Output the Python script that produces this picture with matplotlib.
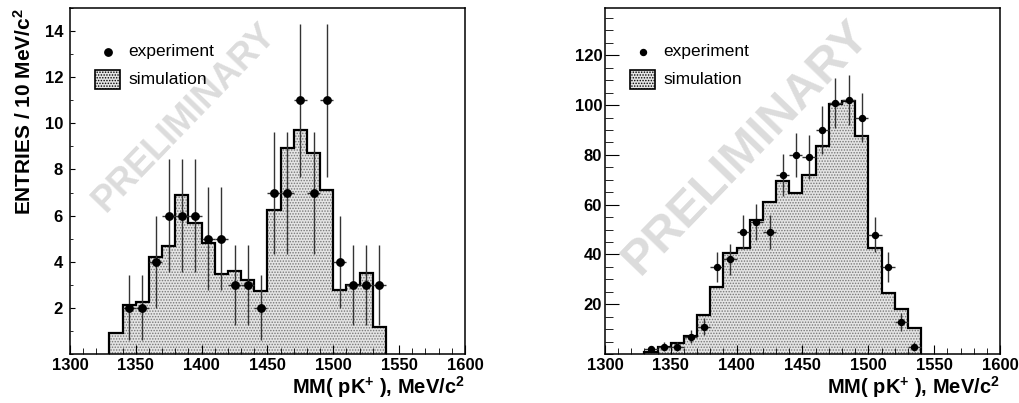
import numpy as np
import matplotlib
matplotlib.use('Agg')
import matplotlib.pyplot as plt
from matplotlib.ticker import MultipleLocator
from matplotlib.patches import Rectangle

plt.rcParams['font.family'] = ['Liberation Sans', 'DejaVu Sans']
plt.rcParams['mathtext.fontset'] = 'custom'
plt.rcParams['mathtext.rm'] = 'Liberation Sans:bold'
plt.rcParams['mathtext.bf'] = 'Liberation Sans:bold'
plt.rcParams['mathtext.default'] = 'bf'
plt.rcParams['hatch.linewidth'] = 0.7

# bin edges, 10 MeV bins
edges = np.arange(1330, 1550, 10)
centers = edges[:-1] + 5

# left panel
sim_left = [0.9, 2.13, 2.25, 4.2, 4.67, 6.88, 5.7, 4.8, 3.46, 3.58, 3.2,
            2.75, 6.26, 8.94, 9.72, 8.71, 7.13, 2.77, 3.0, 3.5, 1.17]
exp_left_x = centers[1:]
exp_left = [2, 2, 4, 6, 6, 6, 5, 5, 3, 3, 2, 7, 7, 11, 7, 11, 4, 3, 3, 3]

# right panel
sim_right = [1.0, 2.9, 4.3, 7.2, 15.8, 26.8, 40.7, 42.6, 54.0, 61.0, 69.5,
             64.5, 71.9, 83.7, 100.3, 101.6, 87.5, 42.4, 24.6, 18.1, 10.6]
exp_right_x = centers
exp_right = [2, 3, 3, 7, 11, 35, 38, 49, 53, 49, 72, 80, 79, 90, 101, 102,
             95, 48, 35, 13, 3]

fig = plt.figure(figsize=(10.2, 4.03), dpi=100)
ax1 = fig.add_axes([70/1020, 49/403, 395/1020, 346/403])
ax2 = fig.add_axes([605/1020, 49/403, 395/1020, 346/403])


def draw_panel(ax, sim, ex, ey, ymax, ms, wm_size, wm_pos):
    ax.stairs(sim, edges, fill=True, facecolor='#e4e4e4', edgecolor='#777777',
              hatch='......', linewidth=0, zorder=1)
    ax.stairs(sim, edges, color='black', linewidth=1.6, zorder=2)
    ax.errorbar(ex, ey, yerr=np.sqrt(ey), xerr=5, fmt='o', color='black',
                ms=ms, ecolor='#333333', elinewidth=1, capsize=0, zorder=3)
    ax.text(wm_pos[0], wm_pos[1], 'PRELIMINARY', transform=ax.transAxes,
            rotation=46, rotation_mode='anchor', ha='center', va='center',
            fontsize=wm_size, fontweight='bold', color='#dcdcdc', zorder=0.5)
    ax.set_xlim(1300, 1600)
    ax.set_ylim(0, ymax)
    ax.xaxis.set_major_locator(MultipleLocator(50))
    ax.xaxis.set_minor_locator(MultipleLocator(10))
    ax.tick_params(axis='both', which='both', direction='in', top=False,
                   right=False, labelsize=12)
    ax.tick_params(axis='x', which='major', length=6.5, pad=3)
    ax.tick_params(axis='x', which='minor', length=4)
    for s in ax.spines.values():
        s.set_linewidth(1.1)
    ax.set_xlabel('MM( pK$^{+}$ ), MeV/c$^{2}$', loc='right', fontsize=14.5,
                  fontweight='bold', labelpad=1)
    # legend drawn by hand
    ax.plot([0.096], [0.873], 'o', color='black', ms=ms,
            transform=ax.transAxes)
    ax.text(0.147, 0.873, 'experiment', transform=ax.transAxes,
            fontsize=12.5, va='center')
    ax.add_patch(Rectangle((0.064, 0.765), 0.062, 0.056,
                           transform=ax.transAxes, facecolor='#e4e4e4',
                           edgecolor='black', hatch='......', lw=1.2))
    ax.text(0.147, 0.793, 'simulation', transform=ax.transAxes,
            fontsize=12.5, va='center')


draw_panel(ax1, sim_left, exp_left_x, exp_left, 15, 5.3, 26, (0.291, 0.682))
ax1.set_yticks(range(2, 15, 2))
ax1.yaxis.set_minor_locator(MultipleLocator(1))
ax1.tick_params(axis='y', which='major', length=3.6, pad=5)
ax1.tick_params(axis='y', which='minor', length=2.2)
ax1.set_ylabel('ENTRIES / 10 MeV/c$^{2}$', loc='top', fontsize=15,
               fontweight='bold', labelpad=7)

draw_panel(ax2, sim_right, exp_right_x, exp_right, 139, 4.3, 35, (0.357, 0.598))
ax2.set_yticks(range(20, 121, 20))
ax2.yaxis.set_minor_locator(MultipleLocator(5))
ax2.tick_params(axis='y', which='major', length=10, pad=2)
ax2.tick_params(axis='y', which='minor', length=5.5)
for lab in ax1.get_xticklabels() + ax1.get_yticklabels() + \
        ax2.get_xticklabels() + ax2.get_yticklabels():
    lab.set_fontweight('bold')

fig.savefig('out.png', dpi=100)
